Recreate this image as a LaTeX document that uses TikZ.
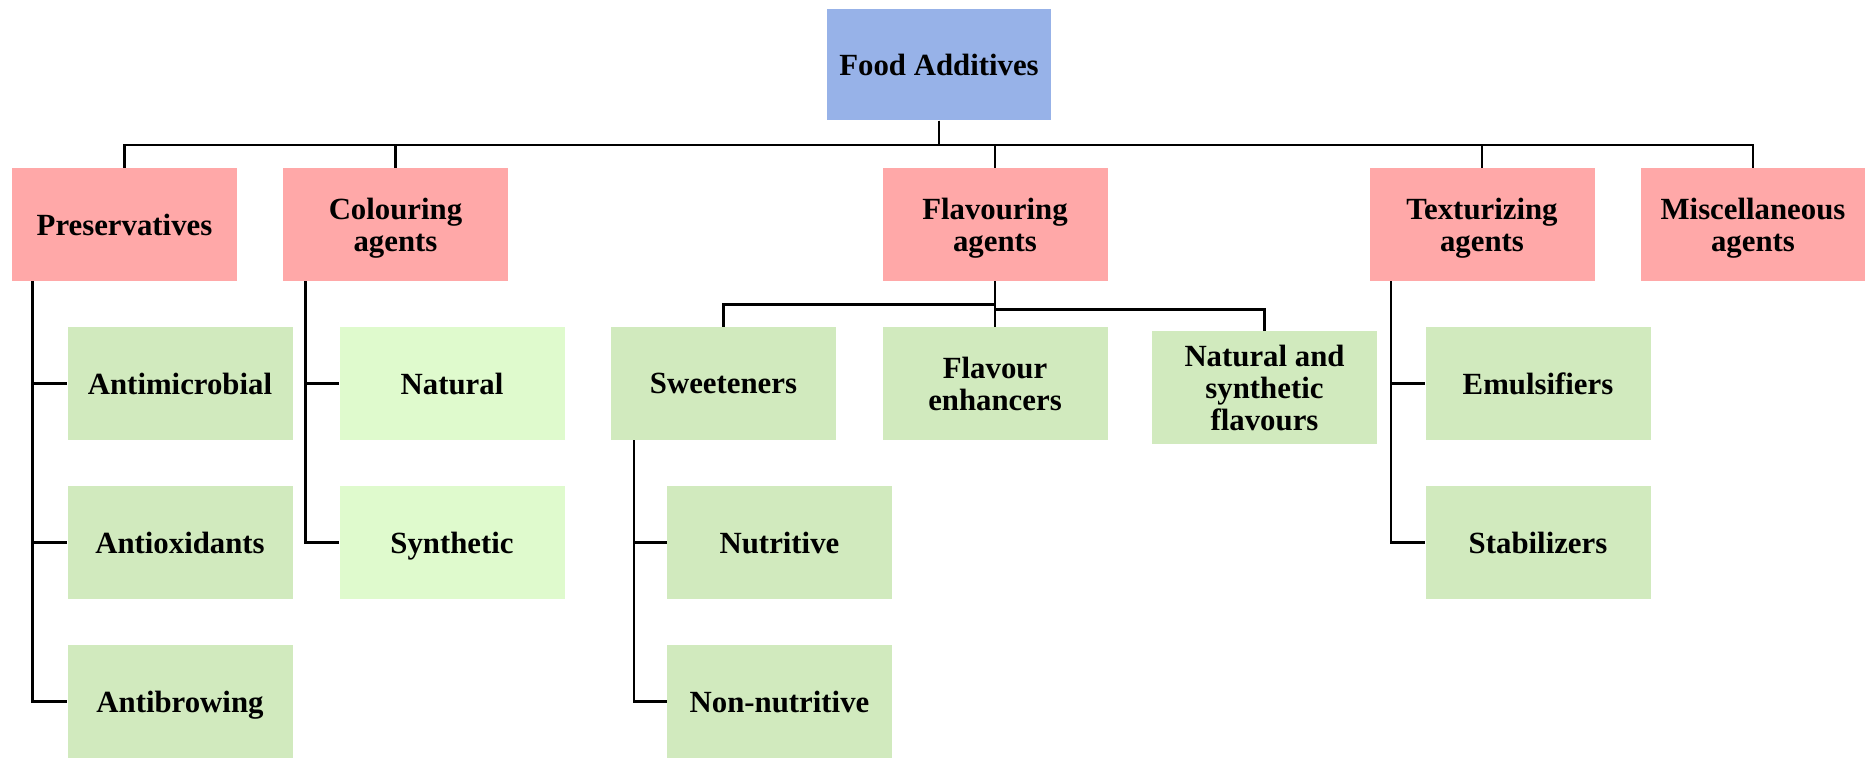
\documentclass[tikz,border=0pt]{standalone}
\usepackage{fontspec}
\setmainfont{Liberation Serif}
\usepackage{tikz}
\usetikzlibrary{positioning,calc}
\definecolor{rootblue}{RGB}{151,178,232}
\definecolor{catpink}{RGB}{255,168,168}
\definecolor{subgreen}{RGB}{209,234,190}
\definecolor{lightgreen}{RGB}{223,250,205}

\begin{document}
\begin{tikzpicture}[x=0.5pt,y=-0.5pt,
  box/.style={inner sep=0pt, minimum width=112.5pt, minimum height=56.5pt, align=center,
    text depth=0pt, font=\fontsize{15.4}{16}\selectfont\bfseries},
  rootbox/.style={box, fill=rootblue, minimum width=112pt, minimum height=55.5pt},
  catbox/.style={box, fill=catpink},
  subbox/.style={box, fill=subgreen},
  lightbox/.style={box, fill=lightgreen},
  conn/.style={line width=1.25pt}]
\useasboundingbox (0,0) rectangle (1865,759);

% root
\node[rootbox] (food) at (939,65) {Food Additives};

% categories
\node[catbox] (pres) at (124.5,224.5) {Preservatives};
\node[catbox] (colour) at (395.5,224.5) {Colouring\\agents};
\node[catbox] (flav) at (995,224.5) {Flavouring\\agents};
\node[catbox] (textu) at (1482,224.5) {Texturizing\\agents};
\node[catbox, minimum width=112pt] (misc) at (1753,224.5) {Miscellaneous\\agents};

% sub-classes
\node[subbox] (antimic) at (180,383.5) {Antimicrobial};
\node[subbox] (antiox) at (180,542.5) {Antioxidants};
\node[subbox] (antibrow) at (180,701.5) {Antibrowing};
\node[lightbox] (natural) at (452,383.5) {Natural};
\node[lightbox] (synth) at (452,542.5) {Synthetic};
\node[subbox] (sweet) at (723.5,383.5) {Sweeteners};
\node[subbox] (nutri) at (779.5,542.5) {Nutritive};
\node[subbox] (nonnut) at (779.5,701.5) {Non-nutritive};
\node[subbox] (enh) at (995,383.5) {Flavour\\enhancers};
\node[subbox] (natsyn) at (1264.5,388) {Natural and\\synthetic\\flavours};
\node[subbox] (emul) at (1538,383.5) {Emulsifiers};
\node[subbox] (stab) at (1538,542.5) {Stabilizers};

% connectors
\foreach \c in {pres,colour,flav,textu,misc}
  \draw[conn] (food.south) -- ++(0,24) -| (\c.north);

\foreach \s in {antimic,antiox,antibrow}
  \draw[conn] ([xshift=10.5pt]pres.south west) |- (\s.west);
\foreach \s in {natural,synth}
  \draw[conn] ([xshift=11.5pt]colour.south west) |- (\s.west);
\foreach \s in {nutri,nonnut}
  \draw[conn] ([xshift=11.75pt]sweet.south west) |- (\s.west);
\foreach \s in {emul,stab}
  \draw[conn] ([xshift=11pt]textu.south west) |- (\s.west);

\draw[conn] (flav.south) -- (enh.north);
\draw[conn] (flav.south) -- ++(0,23) -| (sweet.north);
\draw[conn] (flav.south) -- ++(0,28) -| (natsyn.north);
\end{tikzpicture}
\end{document}
